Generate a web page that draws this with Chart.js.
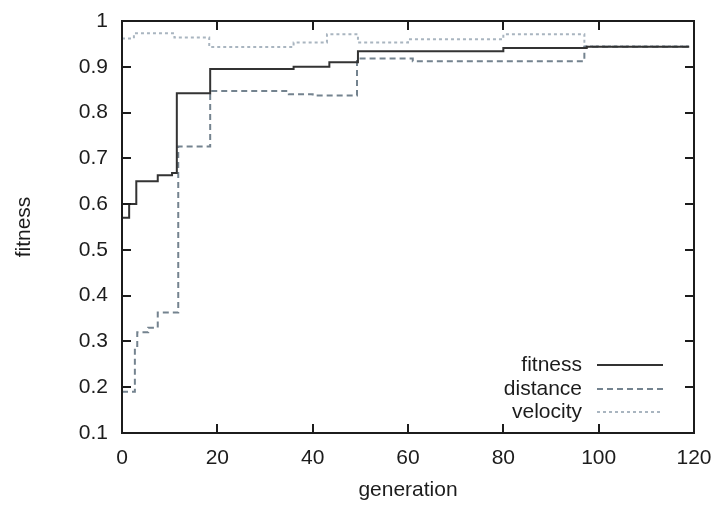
<!DOCTYPE html>
<html>
<head>
<meta charset="utf-8">
<script src="https://cdn.jsdelivr.net/npm/chart.js@4/dist/chart.umd.min.js"></script>
<style>
  html, body { margin: 0; padding: 0; background: #fff; }
  #wrap { width: 717px; height: 508px; }
</style>
</head>
<body>
<div id="wrap"><canvas id="fitChart" width="717" height="508"></canvas></div>
<script>
// data (step points: generation where the value starts)
const fitnessGen = [0, 1.5, 3, 7.5, 10.5, 11.5, 18.5, 36, 43.5, 49.5, 80, 97.5, 119];
const fitnessVal = [0.57, 0.6, 0.65, 0.663, 0.668, 0.842, 0.895, 0.9, 0.91, 0.934, 0.941, 0.944, 0.944];

const distanceGen = [0, 2.7, 3.2, 5.5, 7.5, 11.8, 18.5, 35, 40, 49.3, 61, 97, 119];
const distanceVal = [0.19, 0.29, 0.32, 0.33, 0.363, 0.726, 0.847, 0.84, 0.837, 0.918, 0.912, 0.944, 0.944];

const velocityGen = [0, 2.5, 11, 18.3, 36, 43, 49.5, 60, 80, 97, 119];
const velocityVal = [0.962, 0.973, 0.964, 0.943, 0.953, 0.971, 0.953, 0.96, 0.971, 0.945, 0.945];

const xTicks = [0, 20, 40, 60, 80, 100, 120];
const yTicks = [0.1, 0.2, 0.3, 0.4, 0.5, 0.6, 0.7, 0.8, 0.9, 1];

const seriesNames = ['fitness', 'distance', 'velocity'];
const FONT = '"Liberation Sans", Arial, Helvetica, sans-serif';
const INK = '#1c1c1c';

function toPoints(gens, vals) {
    return gens.map((g, i) => ({ x: g, y: vals[i] }));
}

// gnuplot-like frame with inward ticks, mirrored
const framePlugin = {
    id: 'frame',
    afterDatasetsDraw(chart) {
        const { ctx, chartArea: a, scales } = chart;
        const len = 9;
        ctx.save();
        ctx.strokeStyle = INK;
        ctx.lineWidth = 2;
        xTicks.forEach(v => {
            if (v === 0 || v === 120) return;
            const px = Math.round(scales.x.getPixelForValue(v));
            ctx.beginPath();
            ctx.moveTo(px, a.bottom); ctx.lineTo(px, a.bottom - len);
            ctx.moveTo(px, a.top); ctx.lineTo(px, a.top + len);
            ctx.stroke();
        });
        yTicks.forEach(v => {
            if (v === 0.1 || v === 1) return;
            const py = Math.round(scales.y.getPixelForValue(v));
            ctx.beginPath();
            ctx.moveTo(a.left, py); ctx.lineTo(a.left + len, py);
            ctx.moveTo(a.right, py); ctx.lineTo(a.right - len, py);
            ctx.stroke();
        });
        ctx.strokeRect(a.left, a.top, a.right - a.left, a.bottom - a.top);
        ctx.restore();
    }
};

// key in the lower right: text first, sample line after it
const keyPlugin = {
    id: 'key',
    afterDraw(chart) {
        const { ctx } = chart;
        const textRight = 582, x0 = 597, x1 = 663;
        const rows = [365, 389, 412];
        ctx.save();
        ctx.font = '21px ' + FONT;
        ctx.fillStyle = INK;
        ctx.textAlign = 'right';
        ctx.textBaseline = 'middle';
        chart.data.datasets.forEach((ds, i) => {
            ctx.fillText(ds.label, textRight, rows[i]);
            ctx.beginPath();
            ctx.strokeStyle = ds.borderColor;
            ctx.lineWidth = ds.borderWidth;
            ctx.setLineDash(ds.borderDash || []);
            ctx.moveTo(x0, rows[i]);
            ctx.lineTo(x1, rows[i]);
            ctx.stroke();
        });
        ctx.restore();
    }
};

const ctx = document.getElementById('fitChart').getContext('2d');
const fitChart = new Chart(ctx, {
    type: 'line',
    data: {
        datasets: [
            {
                label: seriesNames[0],
                data: toPoints(fitnessGen, fitnessVal),
                borderColor: '#333',
                borderWidth: 2,
            },
            {
                label: seriesNames[1],
                data: toPoints(distanceGen, distanceVal),
                borderColor: '#74838f',
                borderWidth: 2,
                borderDash: [6, 4],
            },
            {
                label: seriesNames[2],
                data: toPoints(velocityGen, velocityVal),
                borderColor: '#a9b5c0',
                borderWidth: 2,
                borderDash: [3, 3],
            },
        ],
    },
    options: {
        responsive: false,
        animation: false,
        elements: {
            point: { radius: 0 },
            line: { stepped: 'before', tension: 0, fill: false },
        },
        layout: { padding: { top: 21, right: 23, left: 0, bottom: 0 } },
        plugins: {
            legend: { display: false },
            tooltip: { enabled: false },
        },
        scales: {
            x: {
                type: 'linear',
                min: 0,
                max: 120,
                afterFit: s => { s.height = 75; s.paddingLeft = 0; s.paddingRight = 0; },
                afterBuildTicks: s => { s.ticks = xTicks.map(v => ({ value: v })); },
                grid: { display: false, drawTicks: false },
                border: { display: false },
                ticks: { color: INK, font: { family: FONT, size: 21 }, padding: 13, maxRotation: 0 },
                title: { display: true, text: 'generation', color: INK, font: { family: FONT, size: 21 }, padding: { bottom: 5 } },
            },
            y: {
                type: 'linear',
                min: 0.1,
                max: 1,
                afterFit: s => { s.width = 122; s.paddingTop = 0; s.paddingBottom = 0; },
                afterBuildTicks: s => { s.ticks = yTicks.map(v => ({ value: v })); },
                grid: { display: false, drawTicks: false },
                border: { display: false },
                ticks: {
                    color: INK, font: { family: FONT, size: 21 }, padding: 14,
                    callback: v => String(Math.round(v * 10) / 10),
                },
                title: { display: true, text: 'fitness', color: INK, font: { family: FONT, size: 21 }, padding: { top: 12 } },
            },
        },
    },
    plugins: [framePlugin, keyPlugin],
});
</script>
</body>
</html>
